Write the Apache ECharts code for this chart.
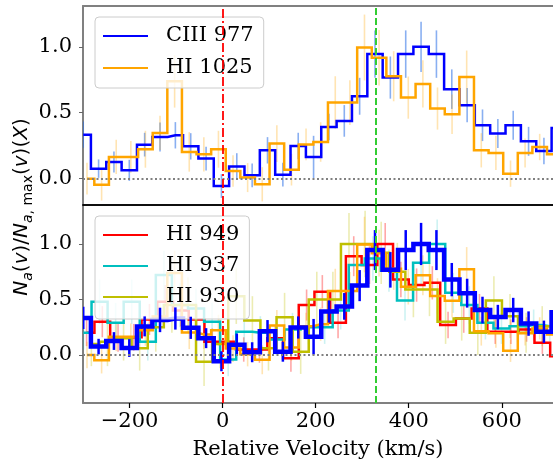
<!DOCTYPE html>
<html><head><meta charset="utf-8">
<script src="https://cdn.jsdelivr.net/npm/echarts@6/dist/echarts.min.js"></script>
<style>html,body{margin:0;padding:0;background:#fff}#c{width:553px;height:462px}</style>
</head><body><div id="c"></div>
<script>
// ---- data (velocity bin centres in km/s, normalised apparent column density) ----
const CIII_v = [-299.5,-266.5,-233.5,-200.5,-167.5,-134.5,-101.5,-68.5,-35.5,-2.5,30.5,63.5,96.5,129.5,162.5,195.5,228.5,261.5,294.5,327.5,360.5,393.5,426.5,459.5,492.5,525.5,558.5,591.5,624.5,657.5,690.5,723.5];
const CIII_y = [0.334,0.076,0.126,0.063,0.258,0.316,0.329,0.245,0.152,-0.056,0.093,0.025,0.215,0.030,0.248,0.165,0.392,0.438,0.625,0.945,0.767,0.945,1.0,0.945,0.679,0.557,0.405,0.342,0.405,0.283,0.210,0.385];
const CIII_err = [0.10,0.07,0.08,0.08,0.09,0.11,0.10,0.10,0.09,0.09,0.10,0.09,0.10,0.09,0.10,0.16,0.10,0.12,0.14,0.18,0.16,0.18,0.19,0.18,0.15,0.13,0.12,0.11,0.11,0.11,0.10,0.10];

const HI1025_v = [-291.4,-260.0,-228.6,-197.2,-165.9,-134.5,-103.1,-71.7,-40.3,-8.9,22.4,53.8,85.2,116.6,148.0,179.3,210.7,242.1,273.5,304.9,336.2,367.6,399.0,430.4,461.8,493.1,524.5,555.9,587.3,618.7,650.0,681.4,712.8];
const HI1025_y = [0.0,-0.046,0.165,0.165,0.223,0.347,0.739,0.203,0.185,0.223,0.058,0.008,-0.043,0.266,0.068,0.26,0.278,0.577,0.577,0.995,0.917,0.777,0.615,0.719,0.532,0.489,0.772,0.215,0.195,0.038,0.195,0.240,0.185];
const HI1025_err = [0.12,0.12,0.13,0.12,0.14,0.13,0.20,0.15,0.13,0.14,0.12,0.11,0.13,0.14,0.12,0.12,0.15,0.20,0.17,0.25,0.21,0.19,0.16,0.18,0.16,0.15,0.20,0.13,0.13,0.10,0.11,0.10,0.10];

const HI949_v = [-292.3,-258.5,-224.7,-191.0,-157.2,-123.4,-89.6,-55.9,-22.1,11.7,45.4,79.2,113.0,146.8,180.5,214.3,248.1,281.8,315.6,349.4,383.1,416.9,450.7,484.5,518.2,552.0,585.8,619.5,653.3,687.1,720.8];
const HI949_y = [0.20,0.30,0.16,0.16,0.32,0.48,0.40,0.32,0.12,0.12,0.05,0.05,0.15,-0.03,0.45,0.57,0.29,0.89,0.81,1.00,0.68,0.63,0.65,0.27,0.33,0.42,0.21,0.21,0.23,0.11,-0.01];
const HI949_err = [0.12,0.14,0.13,0.12,0.14,0.15,0.14,0.13,0.12,0.12,0.11,0.12,0.12,0.12,0.14,0.15,0.14,0.18,0.17,0.19,0.16,0.15,0.15,0.12,0.13,0.13,0.11,0.11,0.11,0.10,0.10];

const HI937_v = [-298.9,-264.4,-229.9,-195.3,-160.8,-126.2,-91.7,-57.1,-22.6,12.0,46.5,81.1,115.6,150.2,184.7,219.3,253.8,288.4,322.9,357.5,392.0,426.6,461.1,495.7,530.2,564.8,599.3,633.9,668.4,703.0];
const HI937_y = [0.20,0.48,0.29,0.48,0.12,0.72,0.45,0.42,0.30,-0.04,0.21,0.20,0.14,0.23,0.25,0.25,0.40,0.81,0.87,0.76,0.49,0.83,1.00,0.56,0.45,0.29,0.24,0.26,0.27,0.26];
const HI937_err = [0.15,0.20,0.18,0.20,0.17,0.22,0.20,0.18,0.17,0.15,0.15,0.15,0.14,0.15,0.15,0.15,0.17,0.20,0.20,0.19,0.18,0.20,0.22,0.18,0.17,0.15,0.14,0.14,0.14,0.14];

const HI930_v = [-282.0,-247.4,-212.8,-178.2,-143.6,-109.0,-74.4,-39.8,-5.2,29.4,64.0,98.6,133.2,167.8,202.4,237.0,271.6,306.2,340.8,375.4,410.0,444.6,479.2,513.8,548.4,583.0,617.6,652.2,686.8,721.4];
const HI930_y = [0.10,0.12,0.15,0.06,0.25,0.45,0.45,-0.06,0.10,0.53,0.31,0.06,0.34,0.03,0.50,0.50,1.00,1.00,0.92,0.75,0.59,0.59,0.30,0.33,0.20,0.49,0.35,0.20,0.26,0.26];
const HI930_err = [0.20,0.22,0.20,0.20,0.22,0.25,0.25,0.22,0.22,0.25,0.22,0.20,0.22,0.20,0.25,0.25,0.28,0.30,0.28,0.26,0.25,0.24,0.20,0.20,0.20,0.22,0.20,0.18,0.18,0.18];

const xTicks = [-200, 0, 200, 400, 600];
const yTicks = [0, 0.5, 1.0];
const vSystemic = 0;
const vComponent = 329;

// ---- chart ----
const FONT = 'DejaVu Serif';
const chart = echarts.init(document.getElementById('c'), null, {renderer: 'canvas'});
const pairs = (xs, ys) => xs.map((x, i) => [x, ys[i]]);
const triples = (xs, ys, es) => xs.map((x, i) => [x, ys[i], es[i]]);

function errSeries(name, xi, yi, xs, ys, es, color, width, z) {
  return {
    type: 'custom', name, xAxisIndex: xi, yAxisIndex: yi, clip: true, silent: true, z: z || 1,
    encode: {x: 0, y: 1}, data: triples(xs, ys, es),
    renderItem: (p, api) => {
      const x = api.value(0), y = api.value(1), e = api.value(2);
      const a = api.coord([x, y - e]), b = api.coord([x, y + e]);
      return {type: 'line', shape: {x1: a[0], y1: a[1], x2: b[0], y2: b[1]},
              style: {stroke: color, lineWidth: width}};
    }
  };
}
function stepSeries(name, xi, yi, xs, ys, color, width, z) {
  return {
    type: 'line', name, xAxisIndex: xi, yAxisIndex: yi, step: 'middle', symbol: 'none',
    showSymbol: false, clip: true, silent: true, z: z || 2, color,
    data: pairs(xs, ys),
    lineStyle: {color, width, join: 'miter', cap: 'butt'}
  };
}
function refLines(xi, yi) {
  return {
    type: 'line', xAxisIndex: xi, yAxisIndex: yi, data: [], silent: true, z: 6, symbol: 'none',
    markLine: {
      silent: true, symbol: ['none', 'none'], label: {show: false}, animation: false,
      data: [
        {yAxis: 0, lineStyle: {color: '#808080', type: [2, 2.5], width: 2}},
        {xAxis: vSystemic, lineStyle: {color: '#ff0000', type: [9, 3, 2, 3], width: 1.8}},
        {xAxis: vComponent, lineStyle: {color: '#32cd32', type: [7, 3], width: 2}}
      ]
    }
  };
}

const xBase = {type: 'value', min: -300, max: 710, splitLine: {show: false}};
const tickFmtX = v => (v < 0 ? '\u2212' + Math.abs(v) : String(v));

const legendCommon = {
  orient: 'vertical', left: 95, icon: 'rect', itemWidth: 45, itemHeight: 2,
  backgroundColor: 'rgba(255,255,255,0.8)', borderColor: '#cccccc', borderWidth: 1, borderRadius: 4,
  selectedMode: false,
  textStyle: {fontFamily: FONT, fontSize: 21, color: '#000', lineHeight: 24, padding: [0, 0, 0, 13]}
};

const option = {
  animation: false,
  backgroundColor: '#fff',
  grid: [
    {left: 83, top: 6, width: 470, height: 199},
    {left: 83, top: 205, width: 470, height: 198}
  ],
  xAxis: [
    Object.assign({}, xBase, {gridIndex: 0, position: 'bottom',
      axisLine: {show: true, onZero: false, lineStyle: {color: '#000', width: 1.5}},
      axisTick: {show: false}, axisLabel: {show: false}}),
    Object.assign({}, xBase, {gridIndex: 0, position: 'top',
      axisLine: {show: true, onZero: false, lineStyle: {color: '#808080', width: 2}},
      axisTick: {show: false}, axisLabel: {show: false}}),
    Object.assign({}, xBase, {gridIndex: 1, position: 'bottom',
      axisLine: {show: true, onZero: false, lineStyle: {color: '#808080', width: 2}},
      axisTick: {show: true, customValues: xTicks, length: 5, lineStyle: {color: '#000', width: 1.2}},
      axisLabel: {show: true, customValues: xTicks, formatter: tickFmtX, fontFamily: FONT, fontSize: 21, color: '#000', margin: 8},
      name: 'Relative Velocity (km/s)', nameLocation: 'middle', nameGap: 36,
      nameTextStyle: {fontFamily: FONT, fontSize: 21, color: '#000'}}),
    Object.assign({}, xBase, {gridIndex: 1, position: 'top',
      axisLine: {show: true, onZero: false, lineStyle: {color: '#000', width: 1.5}},
      axisTick: {show: false}, axisLabel: {show: false}})
  ],
  yAxis: [
    {type: 'value', gridIndex: 0, min: -0.2, max: 1.31, splitLine: {show: false},
     axisLine: {show: true, onZero: false, lineStyle: {color: '#808080', width: 2}},
     axisTick: {show: true, customValues: yTicks, length: 4, lineStyle: {color: '#666', width: 1}},
     axisLabel: {show: true, customValues: yTicks, formatter: v => v.toFixed(1), fontFamily: FONT, fontSize: 21, color: '#000', margin: 11}},
    {type: 'value', gridIndex: 1, min: -0.432, max: 1.351, splitLine: {show: false},
     axisLine: {show: true, onZero: false, lineStyle: {color: '#808080', width: 2}},
     axisTick: {show: true, customValues: yTicks, length: 4, lineStyle: {color: '#666', width: 1}},
     axisLabel: {show: true, customValues: yTicks, formatter: v => v.toFixed(1), fontFamily: FONT, fontSize: 21, color: '#000', margin: 11}}
  ],
  legend: [
    Object.assign({}, legendCommon, {data: ['CIII 977', 'HI 1025'], top: 17, itemGap: 8, padding: [7, 10, 8, 8]}),
    Object.assign({}, legendCommon, {data: ['HI 949', 'HI 937', 'HI 930'], top: 216, itemGap: 7, padding: [7, 10, 10, 8]})
  ],
  graphic: [{
    type: 'text', x: 22, y: 207, rotation: Math.PI / 2, silent: true,
    style: {
      text: '{i|N}{si|a}{r|(}{i|v}{r|)/}{i|N}{si|a}{sr|, max}{r|(}{i|v}{r|)(}{i|X}{r|)}',
      align: 'center', verticalAlign: 'middle', fill: '#000',
      rich: {
        i: {fontFamily: 'DejaVu Sans', fontStyle: 'italic', fontSize: 20, lineHeight: 29},
        r: {fontFamily: 'DejaVu Sans', fontSize: 20, lineHeight: 29},
        si: {fontFamily: 'DejaVu Sans', fontStyle: 'italic', fontSize: 14, lineHeight: 14, padding: [12, 0, 0, 0]},
        sr: {fontFamily: 'DejaVu Sans', fontSize: 14, lineHeight: 14, padding: [12, 0, 0, 0]}
      }
    }
  }],
  series: [
    // top panel
    errSeries('e1', 0, 0, CIII_v, CIII_y, CIII_err, 'rgba(40,110,230,0.55)', 1.6),
    errSeries('e2', 0, 0, HI1025_v, HI1025_y, HI1025_err, 'rgba(255,165,0,0.3)', 1.6),
    stepSeries('CIII 977', 0, 0, CIII_v, CIII_y, '#0000ff', 2.5, 2),
    stepSeries('HI 1025', 0, 0, HI1025_v, HI1025_y, '#ffa500', 2.5, 3),
    refLines(0, 0),
    // bottom panel
    errSeries('e3', 2, 1, HI949_v, HI949_y, HI949_err, 'rgba(255,0,0,0.35)', 1.6),
    errSeries('e4', 2, 1, HI937_v, HI937_y, HI937_err, 'rgba(0,191,191,0.2)', 1.6),
    errSeries('e5', 2, 1, HI930_v, HI930_y, HI930_err, 'rgba(191,191,0,0.3)', 1.6),
    errSeries('e6', 2, 1, HI1025_v, HI1025_y, HI1025_err, 'rgba(255,165,0,0.3)', 1.6),
    stepSeries('HI 949', 2, 1, HI949_v, HI949_y, '#ff0000', 2.5, 2),
    stepSeries('HI 937', 2, 1, HI937_v, HI937_y, '#00bfbf', 2.5, 2),
    stepSeries('HI 930', 2, 1, HI930_v, HI930_y, '#bfbf00', 2.5, 2),
    stepSeries('HI 1025 (lower)', 2, 1, HI1025_v, HI1025_y, '#ffa500', 2.5, 2),
    stepSeries('CIII 977 (lower)', 2, 1, CIII_v, CIII_y, '#0000ff', 4.5, 3),
    errSeries('e7', 2, 1, CIII_v, CIII_y, CIII_err, '#0000ff', 2.5, 4),
    refLines(2, 1)
  ]
};
chart.setOption(option);
</script>
</body></html>
